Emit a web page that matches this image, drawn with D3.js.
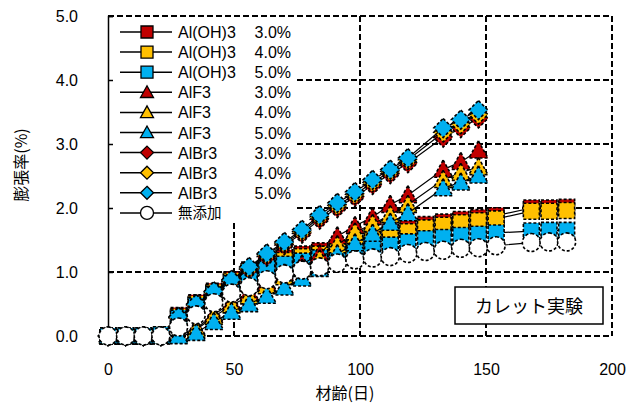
<!DOCTYPE html>
<html>
<head>
<meta charset="utf-8">
<script src="https://cdn.jsdelivr.net/npm/d3@7/dist/d3.min.js"></script>
<style>
  html, body { margin: 0; padding: 0; background: #fff; }
  svg { display: block; }
  text { font-family: "Liberation Sans", Arial, "Noto Sans CJK JP", sans-serif; fill: #000; }
  .jp { font-family: "Noto Sans CJK JP", "Liberation Sans", sans-serif; }
</style>
</head>
<body>
<svg id="chart" width="643" height="407"></svg>
<script>
// Ages (days) at which each group was measured
const daysLong  = [0,7,14,21,28,35,42,49,56,63,70,77,84,91,98,105,112,119,126,133,140,147,154,168,175,182];
const daysShort = [0,7,14,21,28,35,42,49,56,63,70,77,84,91,98,105,112,119,133,140,147];

// Expansion (%) — Al(OH)3
const aloh3_30 = [0,0,0,0.02,0.32,0.52,0.70,0.88,1.03,1.13,1.22,1.28,1.33,1.38,1.45,1.55,1.62,1.68,1.74,1.78,1.82,1.85,1.88,2.00,2.00,2.01];
const aloh3_40 = [0,0,0,0.02,0.30,0.50,0.68,0.86,1.00,1.10,1.18,1.24,1.28,1.33,1.40,1.50,1.57,1.63,1.69,1.73,1.77,1.80,1.83,1.95,1.95,1.96];
const aloh3_50 = [0,0,0,0.02,0.28,0.47,0.65,0.82,0.96,1.06,1.12,1.17,1.22,1.27,1.32,1.37,1.42,1.47,1.52,1.54,1.57,1.59,1.61,1.64,1.65,1.65];
// AlF3
const alf3_30 = [0,0,0,0,0.02,0.12,0.33,0.52,0.68,0.83,0.98,1.12,1.28,1.56,1.72,1.86,2.05,2.20,2.60,2.72,2.90];
const alf3_40 = [0,0,0,0,0.01,0.10,0.30,0.48,0.62,0.78,0.92,1.05,1.20,1.42,1.62,1.75,1.89,2.05,2.44,2.55,2.64];
const alf3_50 = [0,0,0,0,0.00,0.05,0.22,0.38,0.50,0.63,0.76,0.90,1.05,1.28,1.45,1.60,1.77,1.92,2.31,2.40,2.51];
// AlBr3
const albr3_30 = [0,0,0,0,0.28,0.48,0.67,0.85,1.04,1.24,1.42,1.60,1.82,2.00,2.17,2.36,2.53,2.70,3.10,3.25,3.40];
const albr3_40 = [0,0,0,0,0.29,0.49,0.69,0.87,1.06,1.27,1.45,1.63,1.86,2.04,2.21,2.40,2.57,2.75,3.18,3.31,3.46];
const albr3_50 = [0,0,0,0,0.30,0.50,0.70,0.88,1.08,1.29,1.47,1.66,1.89,2.08,2.25,2.44,2.60,2.78,3.25,3.38,3.53];
// No additive
const plain = [0,0,0,0,0.14,0.33,0.52,0.67,0.77,0.88,0.97,1.03,1.08,1.14,1.19,1.22,1.24,1.29,1.32,1.34,1.37,1.38,1.41,1.46,1.47,1.47];

const seriesNames = ["Al(OH)3","Al(OH)3","Al(OH)3","AlF3","AlF3","AlF3","AlBr3","AlBr3","AlBr3","無添加"];
const seriesDoses = ["3.0%","4.0%","5.0%","3.0%","4.0%","5.0%","3.0%","4.0%","5.0%",""];

const xTicks = [0,50,100,150,200];
const yTicks = [0,1,2,3,4,5];

const RED = "#C00000", YEL = "#FFC000", BLU = "#00B0F0";

const series = [
  {name: seriesNames[0], dose: seriesDoses[0], x: daysLong,  y: aloh3_30, shape: "square",   fill: RED},
  {name: seriesNames[1], dose: seriesDoses[1], x: daysLong,  y: aloh3_40, shape: "square",   fill: YEL},
  {name: seriesNames[2], dose: seriesDoses[2], x: daysLong,  y: aloh3_50, shape: "square",   fill: BLU},
  {name: seriesNames[3], dose: seriesDoses[3], x: daysShort, y: alf3_30,  shape: "triangle", fill: RED},
  {name: seriesNames[4], dose: seriesDoses[4], x: daysShort, y: alf3_40,  shape: "triangle", fill: YEL},
  {name: seriesNames[5], dose: seriesDoses[5], x: daysShort, y: alf3_50,  shape: "triangle", fill: BLU},
  {name: seriesNames[6], dose: seriesDoses[6], x: daysShort, y: albr3_30, shape: "diamond",  fill: RED},
  {name: seriesNames[7], dose: seriesDoses[7], x: daysShort, y: albr3_40, shape: "diamond",  fill: YEL},
  {name: seriesNames[8], dose: seriesDoses[8], x: daysShort, y: albr3_50, shape: "diamond",  fill: BLU},
  {name: seriesNames[9], dose: seriesDoses[9], x: daysLong,  y: plain,    shape: "circle",   fill: "#fff"}
];

const svg = d3.select("#chart");
const L = 108, R = 612, T = 16, B = 336;
const x = d3.scaleLinear().domain([0, 200]).range([L, R]);
const y = d3.scaleLinear().domain([0, 5]).range([B, T]);

const DASH = "6,3";

// Marker path centred on (0,0); s = overall size in px
function markerPath(shape, s) {
  const h = s / 2;
  if (shape === "square") return `M${-h},${-h}H${h}V${h}H${-h}Z`;
  if (shape === "diamond") return `M0,${-h}L${h},0L0,${h}L${-h},0Z`;
  if (shape === "triangle") return `M0,${-h}L${h},${h*0.8}L${-h},${h*0.8}Z`;
  return d3.arc()({innerRadius: 0, outerRadius: h, startAngle: 0, endAngle: 2 * Math.PI});
}

// Grid (dashed) and frame
const grid = svg.append("g");
grid.selectAll("line.h").data(yTicks.filter(v => v > 0)).join("line")
  .attr("x1", L).attr("x2", R).attr("y1", d => y(d)).attr("y2", d => y(d))
  .attr("stroke", "#000").attr("stroke-width", 2).attr("stroke-dasharray", DASH);
grid.selectAll("line.v").data(xTicks.filter(v => v > 0)).join("line")
  .attr("x1", d => x(d)).attr("x2", d => x(d)).attr("y1", T).attr("y2", B)
  .attr("stroke", "#000").attr("stroke-width", 2).attr("stroke-dasharray", DASH);
grid.append("line").attr("x1", L).attr("x2", R).attr("y1", B).attr("y2", B)
  .attr("stroke", "#000").attr("stroke-width", 2).attr("stroke-dasharray", DASH);

// Legend background hides the grid behind it
svg.append("rect").attr("x", L).attr("y", T).attr("width", 189).attr("height", 207).attr("fill", "#fff");

// Y axis: solid line, inward ticks
const yAxis = d3.axisLeft(y).tickValues(yTicks).tickSize(-5).tickPadding(30).tickFormat(d3.format(".1f"));
const gy = svg.append("g").attr("transform", `translate(${L},0)`).call(yAxis);
gy.select(".domain").attr("stroke", "#000").attr("stroke-width", 1.5);
gy.selectAll(".tick line").attr("stroke", "#000").attr("stroke-width", 1.5);
gy.selectAll(".tick text").attr("font-size", 16).attr("font-family", "Liberation Sans, Arial, sans-serif").attr("fill", "#000");

// X axis labels only (grid carries the tick positions)
const xAxis = d3.axisBottom(x).tickValues(xTicks).tickSize(0).tickPadding(28).tickFormat(d3.format("d"));
const gx = svg.append("g").attr("transform", `translate(0,${B})`).call(xAxis);
gx.select(".domain").remove();
gx.selectAll(".tick text").attr("font-size", 16).attr("font-family", "Liberation Sans, Arial, sans-serif").attr("fill", "#000");

// Top and right frame (dashed), drawn over the legend background
svg.append("line").attr("x1", L).attr("x2", R).attr("y1", T).attr("y2", T)
  .attr("stroke", "#000").attr("stroke-width", 2).attr("stroke-dasharray", DASH);
svg.append("line").attr("x1", R).attr("x2", R).attr("y1", T).attr("y2", B)
  .attr("stroke", "#000").attr("stroke-width", 2).attr("stroke-dasharray", DASH);

// Axis titles
svg.append("text").attr("class", "jp").attr("x", 345).attr("y", 399)
  .attr("text-anchor", "middle").attr("font-size", 16).text("材齢(日)");
svg.append("text").attr("class", "jp")
  .attr("transform", "translate(27,165) rotate(-90)")
  .attr("text-anchor", "middle").attr("font-size", 16).text("膨張率(%)");

// Data: line then markers, per series
const line = d3.line().x(d => x(d[0])).y(d => y(d[1]));
const plot = svg.append("g");
series.forEach(s => {
  const pts = s.x.map((d, i) => [d, s.y[i]]);
  plot.append("path").attr("d", line(pts)).attr("fill", "none")
    .attr("stroke", "#000").attr("stroke-width", 1.2);
  const size = s.shape === "circle" ? 18 : s.shape === "diamond" ? 19 : s.shape === "triangle" ? 19 : 16;
  plot.selectAll(null).data(pts).join("path")
    .attr("transform", d => `translate(${x(d[0])},${y(d[1])})`)
    .attr("d", markerPath(s.shape, size))
    .attr("fill", s.fill).attr("stroke", "#000").attr("stroke-width", 1.6)
    .attr("stroke-dasharray", "3,2");
});

// Legend entries
const leg = svg.append("g");
series.forEach((s, i) => {
  const cy = 32 + i * 20.1;
  leg.append("line").attr("x1", 120).attr("x2", 172).attr("y1", cy).attr("y2", cy)
    .attr("stroke", "#000").attr("stroke-width", 1.5);
  const size = s.shape === "circle" ? 13 : s.shape === "square" ? 12 : 13;
  leg.append("path").attr("transform", `translate(147,${cy})`)
    .attr("d", markerPath(s.shape, size))
    .attr("fill", s.fill).attr("stroke", "#000").attr("stroke-width", 1.3);
  leg.append("text").attr("class", s.dose ? null : "jp").attr("x", 178)
    .attr("y", s.dose ? cy + 6 : cy + 5)
    .attr("font-size", s.dose ? 16 : 14.5).text(s.name);
  if (s.dose) {
    leg.append("text").attr("x", 291).attr("y", cy + 6).attr("text-anchor", "end")
      .attr("font-size", 16).text(s.dose);
  }
});

// Experiment label box
svg.append("rect").attr("x", 455).attr("y", 287).attr("width", 148).attr("height", 37)
  .attr("fill", "#fff").attr("stroke", "#000").attr("stroke-width", 1.5);
svg.append("text").attr("class", "jp").attr("x", 529).attr("y", 313)
  .attr("text-anchor", "middle").attr("font-size", 18).text("カレット実験");
</script>
</body>
</html>
